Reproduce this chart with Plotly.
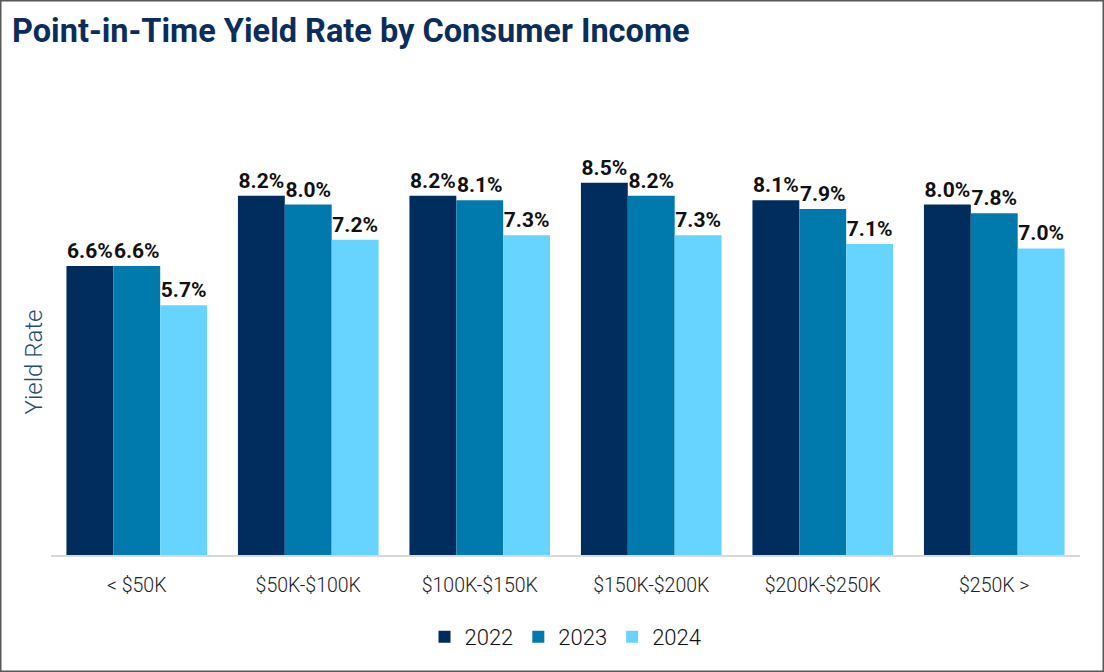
import plotly.graph_objects as go

categories = ["< $50K", "$50K-$100K", "$100K-$150K", "$150K-$200K", "$200K-$250K", "$250K >"]
series_names = ["2022", "2023", "2024"]
values_2022 = [6.6, 8.2, 8.2, 8.5, 8.1, 8.0]
values_2023 = [6.6, 8.0, 8.1, 8.2, 7.9, 7.8]
values_2024 = [5.7, 7.2, 7.3, 7.3, 7.1, 7.0]
colors = ["#002D5E", "#0079AD", "#66D4FF"]

W, H = 1104, 672
ml, mr, mt, mb = 51, 24, 169, 117
pw, ph = W - ml - mr, H - mt - mb

fig = go.Figure()
for name, vals, col in zip(series_names, [values_2022, values_2023, values_2024], colors):
    fig.add_trace(go.Bar(
        name=name, x=categories, y=vals, marker=dict(color=col, line=dict(width=0)),
        text=[f"{v:.1f}%" for v in vals], textposition="outside",
        textfont=dict(family="Roboto", size=21, color="#111111", weight="bold"),
        cliponaxis=False, hoverinfo="skip",
    ))

fig.update_layout(
    width=W, height=H, barmode="group", bargap=0.18, bargroupgap=0,
    margin=dict(l=ml, r=mr, t=mt, b=mb, autoexpand=False),
    paper_bgcolor="white", plot_bgcolor="white",
    title=dict(text="<b>Point-in-Time Yield Rate by Consumer Income</b>",
               font=dict(family="Roboto", size=32.5, color="#0B2D5B"),
               x=12 / W, xanchor="left", y=1 - 31 / H, yanchor="middle"),
    xaxis=dict(showgrid=False, showline=True, linecolor="#D9D9D9", linewidth=1.5,
               ticks="", tickfont=dict(family="Roboto", size=19.5, color="#222222", weight=300),
               ticklabelstandoff=12, automargin=False),
    yaxis=dict(range=[0, ph / 43.8], showgrid=False, showticklabels=False, zeroline=False,
               automargin=False,
               title=dict(text="Yield Rate", standoff=0,
                          font=dict(family="Roboto", size=24, color="#1F4E79", weight=300))),
    legend=dict(orientation="h", x=0.5, xanchor="center", y=-(637 - 555) / ph, yanchor="middle",
                font=dict(family="Roboto", size=22, color="#111111", weight=300),
                itemwidth=30, traceorder="normal"),
    showlegend=True,
    shapes=[dict(type="rect", xref="paper", yref="paper",
                 x0=-(ml - 0.75) / pw, x1=1 + (mr - 0.75) / pw,
                 y0=-(mb - 0.75) / ph, y1=1 + (mt - 0.75) / ph,
                 line=dict(color="#595959", width=1.5), layer="below")],
)

fig.write_html("out.html", config={"displayModeBar": False},
               post_script="document.body.style.margin='0';document.body.style.overflow='hidden';")
